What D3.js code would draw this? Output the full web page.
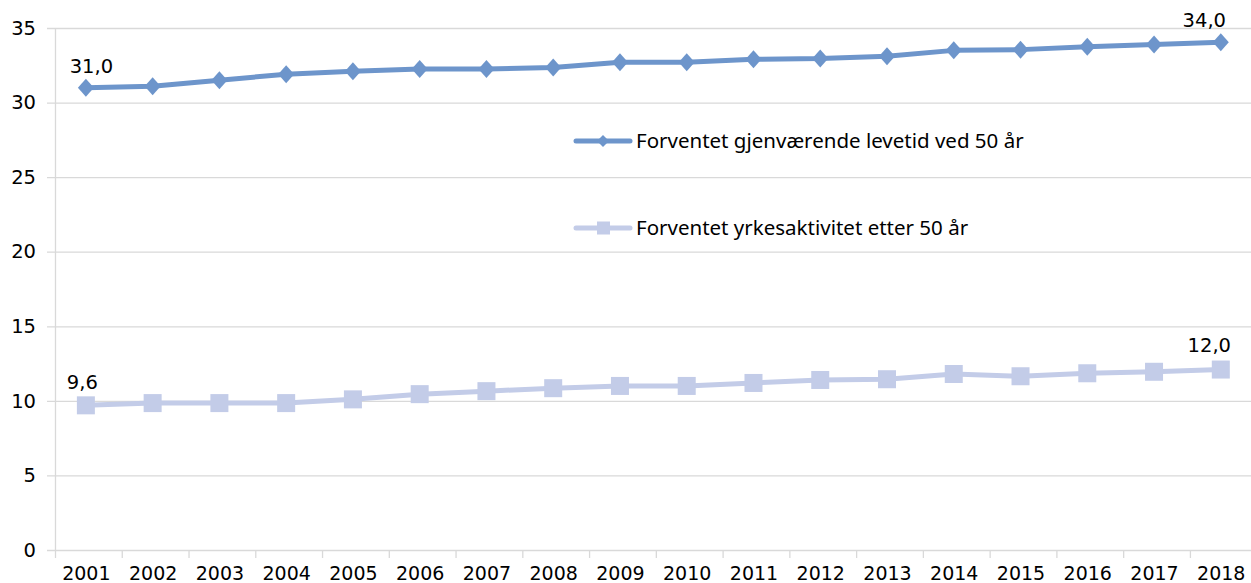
<!DOCTYPE html>
<html>
<head>
<meta charset="utf-8">
<script src="https://cdn.jsdelivr.net/npm/d3@7"></script>
<style>
  body { margin: 0; background: #fff; }
  svg { display: block; }
</style>
</head>
<body>
<script>
//------------ DATA ----------------------
const years = ["2001", "2002", "2003", "2004", "2005", "2006", "2007", "2008", "2009",
               "2010", "2011", "2012", "2013", "2014", "2015", "2016", "2017", "2018"];

// Forventet gjenværende levetid ved 50 år
const levetid = [31.0, 31.1, 31.5, 31.9, 32.1, 32.25, 32.25, 32.35, 32.7,
                 32.7, 32.9, 32.95, 33.1, 33.5, 33.55, 33.75, 33.9, 34.05];

// Forventet yrkesaktivitet etter 50 år
const yrkesaktiv = [9.7, 9.85, 9.85, 9.85, 10.1, 10.45, 10.65, 10.85, 11.0,
                    11.0, 11.2, 11.4, 11.45, 11.8, 11.65, 11.85, 11.95, 12.1];

const seriesNames = ["Forventet gjenværende levetid ved 50 år",
                     "Forventet yrkesaktivitet etter 50 år"];

// data labels shown on first and last point
const levetidLabels = ["31,0", "34,0"];
const yrkesLabels = ["9,6", "12,0"];

const yTicks = [0, 5, 10, 15, 20, 25, 30, 35];
//----------------------------------------

const width = 1251,
    height = 583;

const svg = d3.select("body").append("svg")
    .attr("width", width)
    .attr("height", height);

//------------ SCALES ----------------------
const x = d3.scaleBand()
    .domain(years)
    .range([54, 54 + 18 * 66.76]);

const y = d3.scaleLinear()
    .domain([0, 35])
    .range([550, 28]);

const cx = d => x(d) + x.bandwidth() / 2;

const axisFont = "'DejaVu Sans', Verdana, sans-serif";
const blue = "#6d95cb",
    lightBlue = "#c3cce8";

//------------ GRID + Y AXIS ----------------------
const yAxis = d3.axisLeft(y)
    .tickValues(yTicks)
    .tickSize(x.range()[1] - 47)
    .tickPadding(10)
    .tickFormat(d3.format("d"));

svg.append("g")
    .attr("transform", `translate(${x.range()[1]},0)`)
    .call(yAxis)
    .call(g => g.select(".domain").remove())
    .call(g => g.selectAll(".tick line").attr("stroke", "#d9d9d9").attr("stroke-width", 1.3))
    .call(g => g.selectAll(".tick text")
        .attr("x", -(x.range()[1] - 36))
        .attr("fill", "#000")
        .style("font-family", axisFont)
        .style("font-size", "19.5px"));

// vertical axis line
svg.append("line")
    .attr("x1", 55.5).attr("x2", 55.5)
    .attr("y1", y(35)).attr("y2", y(0))
    .attr("stroke", "#d9d9d9").attr("stroke-width", 1.3);

//------------ X AXIS ----------------------
const xg = svg.append("g");
const boundaries = d3.range(years.length).map(i => x.range()[0] + i * x.step());
xg.selectAll("line.xt")
    .data(boundaries)
    .join("line")
    .attr("class", "xt")
    .attr("x1", d => d + 1.5).attr("x2", d => d + 1.5)
    .attr("y1", y(0)).attr("y2", y(0) + 8)
    .attr("stroke", "#d9d9d9").attr("stroke-width", 1.3);

xg.selectAll("text")
    .data(years)
    .join("text")
    .attr("x", d => cx(d) - 1)
    .attr("y", 579.5)
    .attr("text-anchor", "middle")
    .style("font-family", axisFont)
    .style("font-size", "19px")
    .text(d => d);

//------------ LINES ----------------------
const line = d3.line()
    .x((d, i) => cx(years[i]) - 1.5)
    .y(d => y(d));

svg.append("path")
    .datum(yrkesaktiv)
    .attr("d", line)
    .attr("fill", "none")
    .attr("stroke", lightBlue)
    .attr("stroke-width", 5)
    .attr("stroke-linejoin", "round");

svg.append("g").selectAll("rect")
    .data(yrkesaktiv)
    .join("rect")
    .attr("x", (d, i) => cx(years[i]) - 1.5 - 9)
    .attr("y", d => y(d) - 9)
    .attr("width", 18)
    .attr("height", 18)
    .attr("fill", lightBlue);

svg.append("path")
    .datum(levetid)
    .attr("d", line)
    .attr("fill", "none")
    .attr("stroke", blue)
    .attr("stroke-width", 5)
    .attr("stroke-linejoin", "round");

const diamond = "M0,-9L8,0L0,9L-8,0Z";
svg.append("g").selectAll("path")
    .data(levetid)
    .join("path")
    .attr("transform", (d, i) => `translate(${cx(years[i]) - 1.5},${y(d)})`)
    .attr("d", diamond)
    .attr("fill", blue);

//------------ DATA LABELS ----------------------
const labelData = [
    { t: levetidLabels[0], x: cx(years[0]) + 4, y: y(levetid[0]) - 15 },
    { t: levetidLabels[1], x: cx(years[17]) - 18, y: y(levetid[17]) - 15.5 },
    { t: yrkesLabels[0], x: cx(years[0]) - 5, y: y(yrkesaktiv[0]) - 16 },
    { t: yrkesLabels[1], x: cx(years[17]) - 13, y: y(yrkesaktiv[17]) - 18 }
];
svg.append("g").selectAll("text")
    .data(labelData)
    .join("text")
    .attr("x", d => d.x)
    .attr("y", d => d.y)
    .attr("text-anchor", "middle")
    .style("font-family", axisFont)
    .style("font-size", "19.5px")
    .text(d => d.t);

//------------ LEGEND ----------------------
const legend = svg.append("g");
const legendRows = [
    { name: seriesNames[0], color: blue, y: 141, marker: "diamond" },
    { name: seriesNames[1], color: lightBlue, y: 228, marker: "square" }
];
legendRows.forEach(r => {
    legend.append("line")
        .attr("x1", 576).attr("x2", 630)
        .attr("y1", r.y).attr("y2", r.y)
        .attr("stroke", r.color).attr("stroke-width", 5)
        .attr("stroke-linecap", "round");
    if (r.marker === "diamond") {
        legend.append("path")
            .attr("transform", `translate(603,${r.y})`)
            .attr("d", "M0,-6L6,0L0,6L-6,0Z")
            .attr("fill", r.color);
    } else {
        legend.append("rect")
            .attr("x", 597).attr("y", r.y - 6.5)
            .attr("width", 13).attr("height", 13)
            .attr("fill", r.color);
    }
    legend.append("text")
        .attr("x", 636)
        .attr("y", r.y + 7)
        .style("font-family", "'Noto Sans', sans-serif")
        .style("font-size", "20.5px")
        .text(r.name);
});
</script>
</body>
</html>
